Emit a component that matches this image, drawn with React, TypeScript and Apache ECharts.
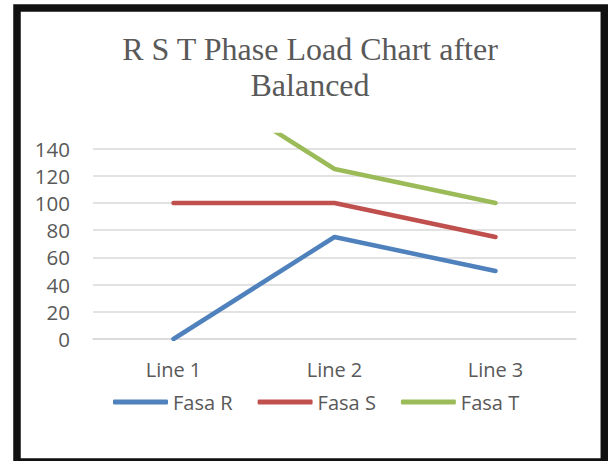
import React, { useEffect, useRef } from "react";
import * as echarts from "echarts";

const titleText = "R S T Phase Load Chart after\nBalanced";
const categories = ["Line 1", "Line 2", "Line 3"];
const seriesNames = ["Fasa R", "Fasa S", "Fasa T"];
const fasaR = [0, 75, 50];
const fasaS = [100, 100, 75];
const fasaT = [200, 125, 100];
const seriesColors = ["#4f81bd", "#c0504d", "#9bbb59"];
const yMin = 0;
const yMax = 150;
const yInterval = 20;

export default function App() {
  const ref = useRef<HTMLDivElement>(null);
  useEffect(() => {
    document.body.style.margin = "0";
    const chart = echarts.init(ref.current!, null, { renderer: "svg" });
    const textColor = "#595959";
    const font = "Open Sans";
    const data = [fasaR, fasaS, fasaT];
    chart.setOption({
      animation: false,
      backgroundColor: "#ffffff",
      graphic: [
        {
          type: "rect",
          shape: { x: 17, y: 8, width: 587.3, height: 454 },
          style: { fill: "none", stroke: "#111111", lineWidth: 7.5 },
          silent: true,
        },
        {
          type: "text",
          x: 310,
          y: 31,
          style: {
            text: titleText,
            textAlign: "center",
            textVerticalAlign: "top",
            fontFamily: "Liberation Serif",
            fontSize: 32,
            lineHeight: 36,
            fill: textColor,
          },
        },
      ],
      grid: { left: 93, right: 32, top: 135, bottom: 122, containLabel: false },
      legend: {
        left: 113,
        top: 392,
        padding: 0,
        icon: "roundRect",
        itemWidth: 55,
        itemHeight: 5,
        itemGap: 25,
        textStyle: { fontFamily: font, fontSize: 20, color: textColor },
        data: seriesNames,
      },
      xAxis: {
        type: "category",
        data: categories,
        boundaryGap: true,
        axisLine: { show: true, lineStyle: { color: "#d9d9d9", width: 1.5 } },
        axisTick: { show: false },
        axisLabel: { margin: 20, fontFamily: font, fontSize: 20, color: textColor },
      },
      yAxis: {
        type: "value",
        min: yMin,
        max: yMax,
        interval: yInterval,
        axisLine: { show: false },
        axisTick: { show: false },
        axisLabel: {
          margin: 23,
          fontFamily: font,
          fontSize: 20.5,
          color: textColor,
          showMaxLabel: false,
        },
        splitLine: { show: true, showMaxLine: false, lineStyle: { color: "#d9d9d9", width: 1.5 } },
      },
      series: seriesNames.map((name, i) => ({
        name,
        type: "line",
        data: data[i],
        symbol: "none",
        clip: true,
        itemStyle: { color: seriesColors[i] },
        lineStyle: { color: seriesColors[i], width: 4.5, cap: "round", join: "round" },
      })),
    });
    return () => chart.dispose();
  }, []);
  return <div ref={ref} style={{ width: 608, height: 461 }} />;
}
